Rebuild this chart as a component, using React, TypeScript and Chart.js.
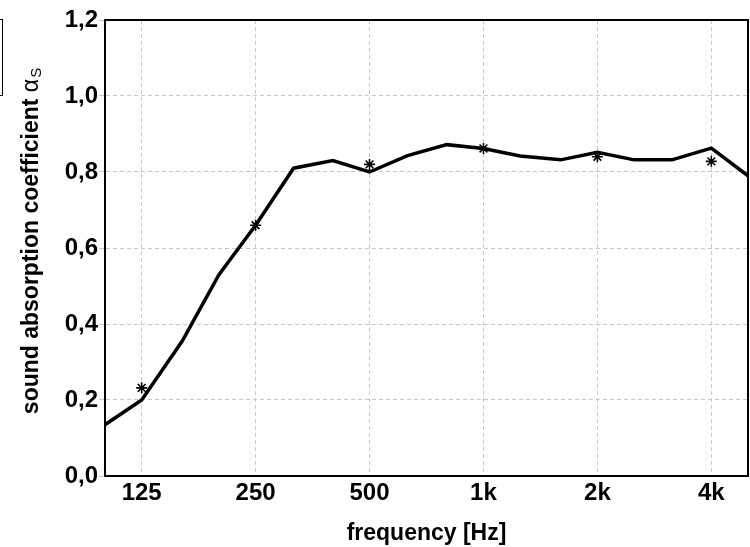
import React, { useEffect, useRef } from "react";
import { Chart, registerables } from "chart.js";

Chart.register(...registerables);

// third-octave band centre frequencies [Hz]
const frequencies = [100, 125, 160, 200, 250, 315, 400, 500, 630, 800, 1000, 1250, 1600, 2000, 2500, 3150, 4000, 5000];
// sound absorption coefficient (third-octave)
const alphaThirdOctave = [0.135, 0.2, 0.355, 0.53, 0.66, 0.81, 0.83, 0.8, 0.843, 0.872, 0.862, 0.842, 0.832, 0.852, 0.832, 0.832, 0.863, 0.79];
// octave band values (asterisks)
const octaveFrequencies = [125, 250, 500, 1000, 2000, 4000];
const alphaOctave = [0.232, 0.66, 0.82, 0.862, 0.84, 0.828];
// tick labels
const xTickLabels = ["125", "250", "500", "1k", "2k", "4k"];
const yTickValues = [0, 0.2, 0.4, 0.6, 0.8, 1.0, 1.2];

const FONT_FAMILY = "'Liberation Sans', Arial, Helvetica, sans-serif";
const GRID_COLOR = "#c8c8c8";

const framePlugin = {
  id: "frame",
  afterDraw(chart: any) {
    const { ctx, chartArea } = chart;
    const { left, top, right, bottom } = chartArea;
    ctx.save();
    ctx.strokeStyle = "#000";
    ctx.lineWidth = 2;
    ctx.strokeRect(left, top, right - left, bottom - top);
    ctx.restore();
  },
};

const yTitlePlugin = {
  id: "yTitle",
  afterDraw(chart: any) {
    const { ctx } = chart;
    const main = "sound absorption coefficient ";
    const mainFont = `bold 23px ${FONT_FAMILY}`;
    const alphaFont = `23px ${FONT_FAMILY}`;
    const subFont = `15px ${FONT_FAMILY}`;
    ctx.save();
    ctx.font = mainFont;
    const w1 = ctx.measureText(main).width;
    ctx.font = alphaFont;
    const w2 = ctx.measureText("α").width;
    ctx.font = subFont;
    const w3 = ctx.measureText("S").width;
    const total = w1 + w2 + w3 + 1;
    ctx.translate(32, 241);
    ctx.rotate(-Math.PI / 2);
    ctx.fillStyle = "#000";
    ctx.textBaseline = "middle";
    ctx.textAlign = "left";
    let x = -total / 2;
    ctx.font = mainFont;
    ctx.fillText(main, x, 0);
    x += w1;
    ctx.font = alphaFont;
    ctx.fillText("α", x, 0);
    x += w2 + 1;
    ctx.font = subFont;
    ctx.fillText("S", x, 5);
    ctx.restore();
  },
};

export default function App() {
  const canvasRef = useRef<HTMLCanvasElement | null>(null);

  useEffect(() => {
    if (!canvasRef.current) return;
    const tickFont = { family: FONT_FAMILY, size: 24, weight: "bold" as const };
    const titleFont = { family: FONT_FAMILY, size: 23, weight: "bold" as const };
    const chart = new Chart(canvasRef.current, {
      type: "line",
      data: {
        datasets: [
          {
            label: "third-octave",
            data: frequencies.map((f, i) => ({ x: f, y: alphaThirdOctave[i] })),
            borderColor: "#000",
            backgroundColor: "#000",
            borderWidth: 3.5,
            pointRadius: 0,
            tension: 0,
            fill: false,
          },
          {
            label: "octave",
            data: octaveFrequencies.map((f, i) => ({ x: f, y: alphaOctave[i] })),
            showLine: false,
            pointStyle: "star",
            pointRadius: 5.5,
            pointBorderWidth: 1.6,
            borderColor: "#000",
            backgroundColor: "#000",
            pointBorderColor: "#000",
          },
        ],
      },
      options: {
        animation: false,
        responsive: false,
        maintainAspectRatio: false,
        layout: { autoPadding: false, padding: { left: 0, top: 20, right: 2, bottom: 0 } },
        plugins: {
          legend: { display: false },
          tooltip: { enabled: false },
        },
        scales: {
          x: {
            type: "logarithmic",
            min: 100,
            max: 5000,
            afterBuildTicks: (scale: any) => {
              scale.ticks = octaveFrequencies.map((v) => ({ value: v }));
            },
            afterFit: (scale: any) => {
              scale.height = 71;
              scale.paddingLeft = 0;
              scale.paddingRight = 0;
            },
            ticks: {
              autoSkip: false,
              maxRotation: 0,
              padding: 3,
              color: "#000",
              font: tickFont,
              callback: (value: any) => {
                const idx = octaveFrequencies.indexOf(Number(value));
                return idx >= 0 ? xTickLabels[idx] : "";
              },
            },
            grid: { color: GRID_COLOR, lineWidth: 1, drawTicks: false },
            border: { display: true, color: "#000", width: 2, dash: [4, 3] },
            title: {
              display: true,
              text: "frequency [Hz]",
              color: "#000",
              font: titleFont,
              padding: { top: 0, bottom: 0 },
            },
          },
          y: {
            type: "linear",
            min: 0,
            max: 1.2,
            afterBuildTicks: (scale: any) => {
              scale.ticks = yTickValues.map((v) => ({ value: v }));
            },
            afterFit: (scale: any) => {
              scale.width = 105;
            },
            ticks: {
              padding: 1,
              color: "#000",
              font: tickFont,
              callback: (value: any) => Number(value).toFixed(1).replace(".", ","),
            },
            grid: {
              color: GRID_COLOR,
              lineWidth: 1,
              drawTicks: true,
              tickLength: 6,
              tickColor: GRID_COLOR,
            },
            border: { display: true, color: "#000", width: 2, dash: [4, 3] },
          },
        },
      },
      plugins: [framePlugin, yTitlePlugin],
    });
    return () => chart.destroy();
  }, []);

  return (
    <div style={{ position: "absolute", left: 0, top: 0, width: 750, height: 547, background: "#fff", overflow: "hidden" }}>
      <canvas ref={canvasRef} width={750} height={547} style={{ width: 750, height: 547, display: "block" }} />
      <div
        style={{
          position: "absolute",
          left: -2,
          top: 19,
          width: 4,
          height: 75,
          borderTop: "1.5px solid #000",
          borderRight: "1.5px solid #000",
          borderBottom: "1.5px solid #000",
        }}
      />
    </div>
  );
}
